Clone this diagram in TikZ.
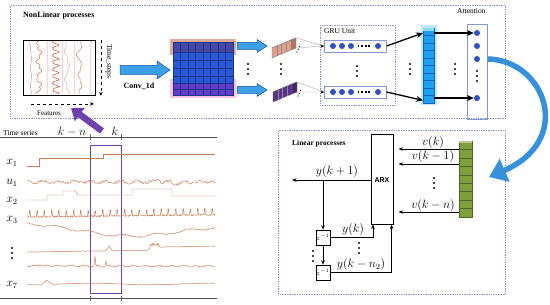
\documentclass[tikz,border=0pt]{standalone}
\usepackage{fontspec}
\setmainfont{Liberation Serif}
\newfontfamily\arialf{Liberation Sans}
\usetikzlibrary{arrows.meta,calc}
\definecolor{panelc}{RGB}{135,150,210}
\definecolor{sigc}{RGB}{200,125,85}
\definecolor{sigr}{RGB}{215,75,45}
\definecolor{arrf}{RGB}{60,160,230}
\definecolor{arrd}{RGB}{30,80,170}
\definecolor{cellc}{RGB}{40,90,215}
\definecolor{celld}{RGB}{25,50,140}
\definecolor{colc}{RGB}{30,160,240}
\definecolor{cold}{RGB}{20,100,190}
\definecolor{dotc}{RGB}{50,80,195}
\definecolor{grc}{RGB}{125,160,60}
\definecolor{grd}{RGB}{75,105,35}
\definecolor{purc}{RGB}{110,65,175}
\definecolor{peach}{RGB}{225,160,140}
\definecolor{toprow}{RGB}{70,70,165}
\definecolor{botrow}{RGB}{100,60,200}
\newcommand\fatarr[6]{%
  \filldraw[draw=arrd, fill=arrf, line width=0.5pt]
    (#1,#2-#4) -- (#3-#6,#2-#4) -- (#3-#6,#2-#5) -- (#3,#2) -- (#3-#6,#2+#5)
    -- (#3-#6,#2+#4) -- (#1,#2+#4) -- cycle;}
\newcommand\mybar[4]{%
  \filldraw[draw=black!55, line width=0.3pt, fill=#4] (#1,#2) -- (#1+19,#2-8) -- (#1+24,#2-10) -- (#1+5,#2-2) -- cycle;
  \filldraw[draw=black!55, line width=0.3pt, fill=#3!75!black] (#1+19,#2-8) -- (#1+24,#2-10) -- (#1+24,#2) -- (#1+19,#2+2) -- cycle;
  \filldraw[draw=black!55, line width=0.3pt, fill=#3] (#1,#2) -- (#1+19,#2-8) -- (#1+19,#2+2) -- (#1,#2+10) -- cycle;
  \foreach \k in {1,2,3} \draw[black!45, line width=0.3pt] (#1+4.75*\k,#2-2*\k) -- (#1+4.75*\k,#2+10-2*\k);}
\begin{document}
\begin{tikzpicture}[x=1pt,y=-1pt,
  panel/.style={draw=panelc, densely dotted, line width=0.7pt, inner sep=0pt},
  sig/.style={draw=sigc, line width=0.45pt},
  blk/.style={-{Stealth[length=7pt,width=6pt]}, line width=1.3pt},
  ar/.style={-{Stealth[length=4.5pt,width=3.5pt]}, line width=0.6pt},
  nd/.style={circle, fill=dotc, inner sep=0pt, minimum size=6pt},
  lbl/.style={font=\fontsize{7.5}{8}\selectfont, inner sep=0pt},
  mlbl/.style={font=\fontsize{11.5}{12}\selectfont, inner sep=0pt},
  vdts/.pic={\foreach \i in {-5,0,5} \fill (0,\i) circle (1.15pt);},
  hdts/.pic={\foreach \i in {0,3.6,7.2,10.8} \fill (\i-0.9,-0.9) rectangle (\i+0.9,0.9);}
]
\useasboundingbox (0,0) rectangle (550,305);
\fill[white] (0,0) rectangle (550,305);

% ---------- panels ----------
\node[panel, anchor=north west, minimum width=495pt, minimum height=113pt] (nl) at (10,5) {};
\node[panel, anchor=north west, minimum width=227pt, minimum height=164pt] (lin) at (278,130) {};
\node[lbl, anchor=west, font=\fontsize{8}{9}\selectfont\bfseries] (nltitle) at (23,15.5) {NonLinear processes};
\node[lbl, anchor=west, font=\fontsize{7.5}{9}\selectfont\bfseries] (lintitle) at (292,144) {Linear processes};
\node[lbl, anchor=west] (atttitle) at (457,11) {Attention};

% ---------- input signal box ----------
\node[draw, line width=0.9pt, anchor=north west, minimum width=72pt, minimum height=55pt, inner sep=0pt] (sigbox) at (23,40) {};
\foreach \xx in {47,62,74,90} \draw[red!18, line width=0.4pt] (\xx,41) -- (\xx,94);
\pgfmathsetseed{5}
\draw[sigc!80, line width=0.45pt] plot[domain=41:94, samples=60] ({31 + 0.4*sin(20*\x) - 2*(\x<45)}, \x);
\draw[sigr!60!sigc, line width=0.45pt] plot[domain=41:94, samples=90] ({39 + 2*sin(22*\x) + 1.2*sin(57*\x)}, \x);
\draw[sigr, line width=0.5pt] plot[domain=41:94, samples=120] ({53 + 6*abs(sin(26*\x))^4 + 0.5*rand}, \x);
\draw[sigc!60, line width=0.45pt] plot[domain=41:94, samples=80] ({67 + 2*sin(12*\x+30) + 0.8*sin(40*\x)}, \x);
\draw[sigc, line width=0.45pt] plot[domain=41:94, samples=90] ({80 + 1.5*sin(18*\x) - 3*max(0,1-abs(\x-55)/4) + 0.6*sin(47*\x)}, \x);
\draw[dashed, line width=0.6pt, -{Stealth[length=4pt,width=3.5pt]}] ($(sigbox.north east)+(5,0)$) -- ($(sigbox.south east)+(5,0)$);
\node[lbl, rotate=-90, anchor=west] (tslbl) at ($(sigbox.north east)+(13,4)$) {Time\_steps};
\draw[dashed, line width=0.6pt, -{Stealth[length=4pt,width=3.5pt]}] ($(sigbox.south west)+(8,8)$) -- ($(sigbox.south east)+(-2,8)$);
\node[lbl, font=\fontsize{7}{8}\selectfont] (featlbl) at (49,113) {Features};

% ---------- conv ----------
\fatarr{120}{70}{170}{4.5}{9}{13}
\node[lbl, font=\fontsize{8}{9}\selectfont\bfseries] (convlbl) at (139,86) {Conv\_1d};
\fill[peach, opacity=0.9] (170,39) rectangle (236,55);
\fill[magenta!30, opacity=0.8] (170,79) rectangle (236,98);
\node[draw=celld, fill=cellc, anchor=north west, minimum width=60pt, minimum height=53pt, inner sep=0pt] (conv) at (173,42) {};
\fill[toprow] (173,42) rectangle (233,52);
\fill[botrow] (173,83) rectangle (233,95);
\foreach \i in {1,...,7} \draw[celld, line width=0.4pt] (173+\i*7.5,42) -- (173+\i*7.5,95);
\foreach \yy in {52,60,68,76,83,89} \draw[celld, line width=0.4pt] (173,\yy) -- (233,\yy);
\draw[celld, line width=0.6pt] (conv.north west) rectangle (conv.south east);
\fatarr{237}{46}{267}{3.5}{6.5}{10}
\fatarr{237}{90}{267}{3.5}{6.5}{10}
\pic at (248,69) {vdts};

% ---------- feature bars ----------
\mybar{272}{48}{peach}{peach!60!white}
\mybar{273}{92}{purc!80!black}{purc!60!white}
\pic at (281,69) {vdts};
\foreach \i in {0,1,2} {\fill (297+1.2*\i,52-2.8*\i) circle (0.6pt); \fill (298+1.2*\i,96-2.8*\i) circle (0.6pt);}

% ---------- GRU ----------
\node[panel, anchor=north west, minimum width=75pt, minimum height=80pt] (gru) at (320,25) {};
\node[lbl, anchor=north west] (grulbl) at (324,28) {GRU Unit};
\node[draw=panelc, line width=0.6pt, anchor=west, minimum width=62pt, minimum height=12pt, inner sep=0pt] (gru1) at (324,46) {};
\node[draw=panelc, line width=0.6pt, anchor=west, minimum width=62pt, minimum height=12pt, inner sep=0pt] (gru2) at (324,92) {};
\draw[black!35, line width=0.35pt] (296,38) -- (gru1.west) (296,48) -- (gru1.west);
\draw[black!35, line width=0.35pt] (297,82) -- (gru2.west) (297,92) -- (gru2.west);
\draw[-{Stealth[length=3pt,width=3pt]}, line width=0.6pt] ($(gru1.west)+(-3,0)$) -- (gru1.west);
\draw[-{Stealth[length=3pt,width=3pt]}, line width=0.6pt] ($(gru2.west)+(-3,0)$) -- (gru2.west);
\foreach \r/\yy in {1/46,2/92} {
  \foreach \xx [count=\c] in {333,342,351,378} \node[nd] (g\r c\c) at (\xx,\yy) {};
  \pic at (358.5,\yy) {hdts};
}
\pic at (357,71) {vdts};

% ---------- blue column ----------
\fill[cyan!25] (420.5,25.5) rectangle (436.5,105.5);
\node[draw=cold, fill=colc, anchor=north west, minimum width=11pt, minimum height=75pt, inner sep=0pt] (col) at (423,28) {};
\foreach \yy in {35.5,43,50.5,58,65.5,73,80.5,88,95.5} \draw[cold, line width=0.35pt] (423,\yy) -- (434,\yy);
\fill[cyan!45] (423.3,28.3) rectangle (433.7,31.5);
\draw[blk] (gru1.east) -- ($(col.north west)+(0,5)$);
\draw[blk] (gru2.east) -- ($(col.south west)+(0,-3)$);
\pic at (410,69) {vdts};

% ---------- attention ----------
\node[draw=panelc, line width=0.6pt, anchor=north west, minimum width=20pt, minimum height=95pt, inner sep=0pt] (att) at (467,24) {};
\node[nd] (a1) at (477,33) {};
\node[nd] (a2) at (477,46) {};
\node[nd] (a3) at (477,59) {};
\node[nd] (a4) at (477,98) {};
\pic at (477,76) {vdts};
\draw[blk] (col.east |- a1) -- (a1.west);
\draw[blk] (col.east |- a4) -- (a4.west);
\pic at (455,69) {vdts};

% ---------- big curved arrow ----------
\coordinate (curvestart) at (att.east |- a3);
\coordinate (curveend) at (489,177);
\draw[line width=5.5pt, draw=arrf!80!arrd, -{Triangle[length=17pt,width=24pt]}] (curvestart) .. controls (545,60) and (575,140) .. (curveend);

% ---------- time series ----------
\node[lbl, anchor=west] (tslabel) at (3,133) {Time series};
\node[mlbl, font=\fontsize{12}{12}\selectfont, text=black!70!green!60!black] (kn) at (72,132) {$k-n$};
\node[mlbl, font=\fontsize{12}{12}\selectfont] (kk) at (115,131) {$k$};
\draw[black!70, line width=0.5pt] (0,137) -- (217,137);
\draw[black!70, line width=0.5pt] (0,298) -- (217,298);
\foreach \xx in {90,121} {\draw[black!60, line width=0.4pt] (\xx,134) -- (\xx,140); \draw[black!60, line width=0.4pt] (\xx,296) -- (\xx,301);}
\node[draw=purc, line width=0.9pt, anchor=north west, minimum width=31pt, minimum height=148pt, inner sep=0pt] (win) at (90,145) {};
\foreach \nm/\lab/\yy in {l1/x_1/163,l2/u_1/183,l3/x_2/201,l4/x_3/220,l7/x_7/285}
  \node[mlbl, font=\fontsize{12}{12}\selectfont] (\nm) at (12,\yy) {$\lab$};
\pic at (12,253) {vdts};
\pgfmathsetseed{11}
\draw[sig] (27,166) -- (39,166) -- (39,158) -- (103,158) -- (103,154) -- (215,154);
\draw[sig] plot[domain=27:215, samples=189] (\x, {182 + 1.4*rand + 0.9*sin(23*\x) - 3*max(0,1-abs(\x-157)/5) + 2*max(0,1-abs(\x-178)/8)});
\draw[sig] (27,200) -- (47,200) -- (47,195) -- (63,195) -- (63,191) -- (75,191) -- (78,195) -- (132,195) -- (132,189) -- (172,189) -- (172,196) -- (215,196);
\draw[sig] plot[domain=27:215, samples=377] (\x, {217 - 0.012*(\x-27) + 0.7*rand - 6*(mod(\x,7.3)<1)});
\draw[sig] plot[domain=27:215, samples=189] (\x, {229 + 5*sin(1.8*(\x-27)-90) + 1.2*sin(11*\x) + 0.6*rand + 0.02*(\x-27)});
\draw[sig] plot[domain=27:215, samples=189] (\x, {252 - 0.015*(\x-27) - 5*max(0,1-abs(\x-109)/3) - 3*(\x>150) - 4*(\x>148)*(\x<160)*abs(sin(70*\x)) + 0.3*rand});
\draw[sig] plot[domain=27:215, samples=189] (\x, {266 + 0.7*rand + 0.6*sin(29*\x) - 9*(abs(\x-95)<1) - 5*(abs(\x-106)<1) - 1.5*max(0,1-abs(\x-40)/3)});
\draw[sig] plot[domain=27:215, samples=189] (\x, {284 - 4*max(0,1-abs(\x-47)/6) + 0.8*sin(3*\x) + 0.3*rand});

% ---------- purple arrow ----------
\coordinate (ptail) at (102,131);
\coordinate (phead) at (71,108);
\draw[line width=6.5pt, draw=purc, -{Triangle[length=11pt,width=16pt]}] (ptail) -- (phead);

% ---------- linear part ----------
\node[draw, line width=0.6pt, anchor=north west, minimum width=22pt, minimum height=90pt, inner sep=0pt] (arx) at (371,134) {};
\node[font=\arialf\bfseries\fontsize{7}{8}\selectfont] (arxlbl) at (382,180) {ARX};
\node[draw=grd, fill=grc, anchor=north west, minimum width=13pt, minimum height=76pt, inner sep=0pt] (green) at (459,141) {};
\foreach \i in {1,...,8} \draw[grd, line width=0.35pt] (459,141+\i*8.44) -- (472,141+\i*8.44);
\fill[grc!55!white] (459.3,141.3) rectangle (471.7,143.5);
\coordinate (v0) at (0,149);
\coordinate (v1) at (0,164);
\coordinate (vn) at (0,212);
\foreach \c in {v0,v1,vn} \draw[ar, shorten >=5pt] (green.west |- \c) -- (arx.east |- \c);
\node[mlbl] (lv0) at (433,142.5) {$v(k)$};
\node[mlbl] (lv1) at (433,157) {$v(k-1)$};
\node[mlbl] (lvn) at (433,205) {$v(k-n)$};
\pic at (434,183) {vdts};
\coordinate (yout) at (292,180);
\draw[ar] (arx.west |- yout) -- (yout);
\node[mlbl] (ly1) at (337,172) {$y(k+1)$};
\coordinate (tap) at (323,180);
\node[draw, line width=0.5pt, minimum width=14pt, minimum height=15pt, inner sep=0pt, font=\fontsize{6}{6}\selectfont] (z1) at (323,237.5) {$z^{-1}$};
\node[draw, line width=0.5pt, minimum width=14pt, minimum height=15pt, inner sep=0pt, font=\fontsize{6}{6}\selectfont] (z2) at (323,272.5) {$z^{-1}$};
\draw[ar] (tap) -- (z1.north);
\draw[ar] (z1.south) -- (z2.north);
\draw[ar] (z1.east) -| ($(arx.south west)+(2,0)$);
\draw[ar] (z2.east) -| ($(arx.south east)+(-2,0)$);
\node[mlbl] (lyk) at (353,229.5) {$y(k)$};
\node[mlbl] (lykn) at (361,264.5) {$y(k-n_2)$};
\pic at (313,256) {vdts};
\pic at (359,248) {vdts};
\end{tikzpicture}
\end{document}
